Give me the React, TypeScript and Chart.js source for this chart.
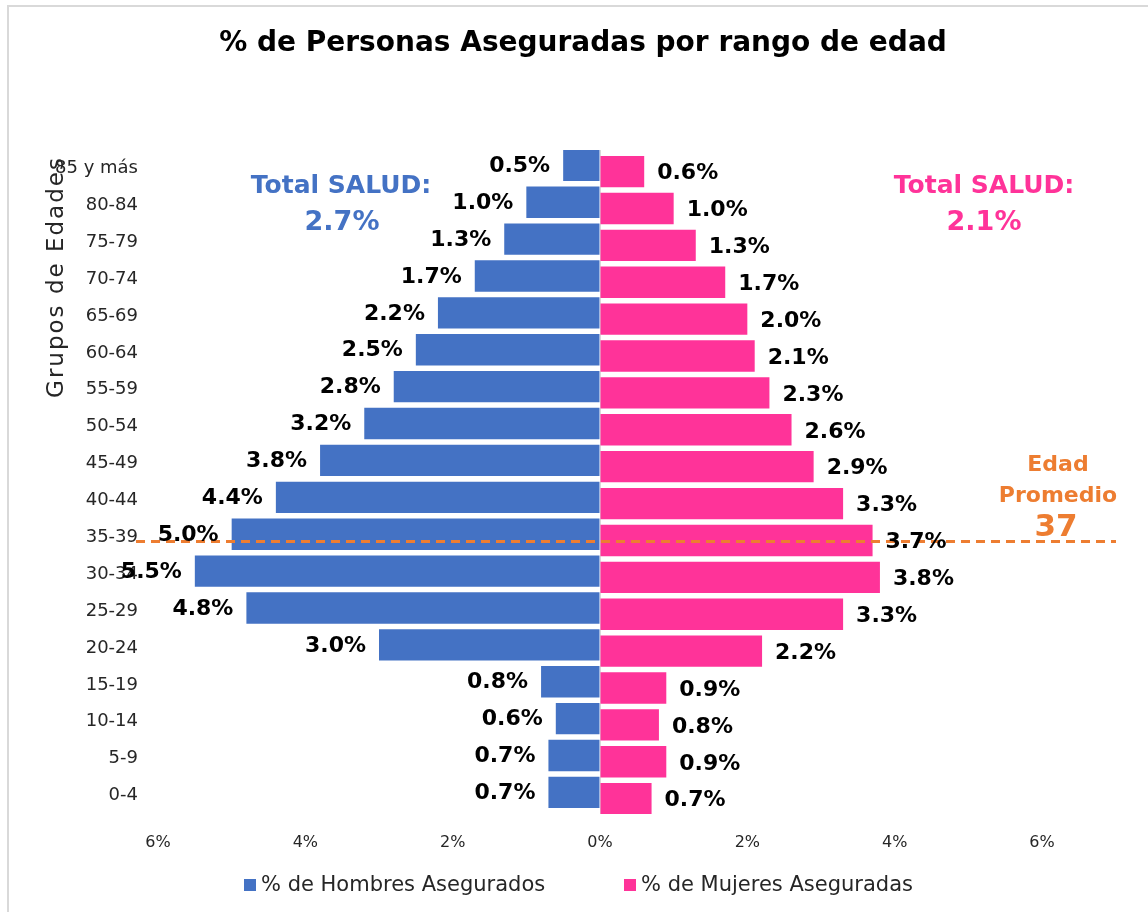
import React, { useEffect, useRef } from "react";
import { Chart, registerables } from "chart.js";
Chart.register(...registerables);

// ---- data (bottom to top) ----
const categories = ["0-4", "5-9", "10-14", "15-19", "20-24", "25-29", "30-34", "35-39", "40-44", "45-49", "50-54", "55-59", "60-64", "65-69", "70-74", "75-79", "80-84", "85 y más"];
const menValues = [0.7, 0.7, 0.6, 0.8, 3.0, 4.8, 5.5, 5.0, 4.4, 3.8, 3.2, 2.8, 2.5, 2.2, 1.7, 1.3, 1.0, 0.5];
const womenValues = [0.7, 0.9, 0.8, 0.9, 2.2, 3.3, 3.8, 3.7, 3.3, 2.9, 2.6, 2.3, 2.1, 2.0, 1.7, 1.3, 1.0, 0.6];
const xTicks = [-6, -4, -2, 0, 2, 4, 6];
const menLabel = "% de Hombres Asegurados";
const womenLabel = "% de Mujeres Aseguradas";
const titleText = "% de Personas Aseguradas por rango de edad";
const axisTitle = "Grupos de Edades";
const totalLabel = "Total SALUD:";
const menTotal = 2.7;
const womenTotal = 2.1;
const averageAge = 37;
const averageAgeGroup = "35-39";

const BLUE = "#4472C4";
const PINK = "#FF3399";
const ORANGE = "#ED7D31";
const FONT = "'DejaVu Sans'";

const overlayPlugin = {
  id: "overlay",
  beforeDraw(chart: any) {
    const ctx = chart.ctx;
    ctx.save();
    ctx.fillStyle = "#fff";
    ctx.fillRect(0, 0, chart.width, chart.height);
    ctx.strokeStyle = "#d9d9d9";
    ctx.lineWidth = 2;
    ctx.beginPath();
    ctx.moveTo(8, chart.height);
    ctx.lineTo(8, 6);
    ctx.lineTo(chart.width, 6);
    ctx.stroke();
    ctx.restore();
  },
  afterDatasetsDraw(chart: any) {
    const ctx = chart.ctx;
    const area = chart.chartArea;
    // average age dashed line
    const idx = categories.indexOf(averageAgeGroup);
    const wMeta = chart.getDatasetMeta(1);
    const lineY = wMeta.data[idx].y + 1;
    ctx.save();
    ctx.strokeStyle = ORANGE;
    ctx.lineWidth = 3;
    ctx.setLineDash([9, 6]);
    ctx.beginPath();
    ctx.moveTo(area.left - 22, lineY);
    ctx.lineTo(area.right + 74, lineY);
    ctx.stroke();
    ctx.restore();

    // data labels
    ctx.save();
    ctx.font = `bold 22px ${FONT}`;
    ctx.fillStyle = "#000";
    ctx.textBaseline = "middle";
    [0, 1].forEach((di) => {
      const meta = chart.getDatasetMeta(di);
      const vals = di === 0 ? menValues : womenValues;
      meta.data.forEach((el: any, i: number) => {
        const txt = vals[i].toFixed(1) + "%";
        if (di === 0) {
          ctx.textAlign = "right";
          ctx.fillText(txt, el.x - 13, el.y + 1);
        } else {
          ctx.textAlign = "left";
          ctx.fillText(txt, el.x + 13, el.y + 2);
        }
      });
    });
    ctx.restore();
  },
  afterDraw(chart: any) {
    const ctx = chart.ctx;
    ctx.save();
    ctx.textBaseline = "middle";
    ctx.textAlign = "center";
    // title
    ctx.fillStyle = "#000";
    ctx.font = `bold 28px ${FONT}`;
    ctx.fillText(titleText, 583, 44);

    // totals
    ctx.font = `bold 25px ${FONT}`;
    ctx.fillStyle = BLUE;
    ctx.fillText(totalLabel, 341, 186);
    ctx.font = `bold 27px ${FONT}`;
    ctx.fillText(menTotal.toFixed(1) + "%", 342, 223);
    ctx.font = `bold 25px ${FONT}`;
    ctx.fillStyle = PINK;
    ctx.fillText(totalLabel, 984, 186);
    ctx.font = `bold 27px ${FONT}`;
    ctx.fillText(womenTotal.toFixed(1) + "%", 984, 223);

    // average age
    ctx.fillStyle = ORANGE;
    ctx.font = `bold 22px ${FONT}`;
    ctx.fillText("Edad", 1058, 465);
    ctx.fillText("Promedio", 1058, 496);
    ctx.font = `bold 31px ${FONT}`;
    ctx.fillText(String(averageAge), 1056, 528);

    // y axis title
    ctx.save();
    ctx.translate(57, 277);
    ctx.rotate(-Math.PI / 2);
    ctx.fillStyle = "#262626";
    ctx.font = `23px ${FONT}`;
    try { (ctx as any).letterSpacing = "2px"; } catch (e) {}
    ctx.fillText(axisTitle, 0, 0);
    ctx.restore();

    // legend
    ctx.textAlign = "left";
    ctx.font = `21px ${FONT}`;
    ctx.fillStyle = BLUE;
    ctx.fillRect(244, 879, 12, 12);
    ctx.fillStyle = "#262626";
    ctx.fillText(menLabel, 261, 886);
    ctx.fillStyle = PINK;
    ctx.fillRect(624, 879, 12, 12);
    ctx.fillStyle = "#262626";
    ctx.fillText(womenLabel, 641, 886);
    ctx.restore();
  },
};

export default function App() {
  const ref = useRef<HTMLCanvasElement | null>(null);
  useEffect(() => {
    if (!ref.current) return;
    Chart.defaults.font.family = FONT;
    const chart = new Chart(ref.current, {
      type: "bar",
      data: {
        labels: categories,
        datasets: [
          {
            label: menLabel,
            data: menValues.map((v) => -v),
            backgroundColor: BLUE,
            categoryPercentage: 0.34,
            barPercentage: 5.0,
          },
          {
            label: womenLabel,
            data: womenValues,
            backgroundColor: PINK,
            categoryPercentage: 0.34,
            barPercentage: 5.0,
          },
        ],
      },
      options: {
        indexAxis: "y",
        animation: false,
        responsive: false,
        layout: { padding: { top: 150, right: 106, bottom: 58, left: 0 } },
        plugins: {
          legend: { display: false },
          title: { display: false },
          tooltip: { enabled: false },
        },
        scales: {
          x: {
            min: -6,
            max: 6,
            afterBuildTicks: (scale: any) => {
              scale.ticks = xTicks.map((v) => ({ value: v }));
            },
            afterFit: (scale: any) => {
              scale.height = 40;
            },
            ticks: {
              padding: 19,
              color: "#262626",
              font: { size: 16 },
              callback: (v: any) => Math.abs(Number(v)) + "%",
            },
            grid: {
              drawTicks: false,
              color: (c: any) => (c.tick && c.tick.value === 0 ? "#d9d9d9" : "rgba(0,0,0,0)"),
            },
            border: { display: false },
          },
          y: {
            reverse: true,
            afterFit: (scale: any) => {
              scale.width = 158;
            },
            ticks: {
              padding: 20,
              color: "#262626",
              font: { size: 18 },
              autoSkip: false,
            },
            grid: { display: false, drawTicks: false },
            border: { display: false },
          },
        },
      },
      plugins: [overlayPlugin],
    } as any);
    return () => chart.destroy();
  }, []);

  return (
    <div style={{ position: "fixed", left: 0, top: 0, width: 1148, height: 912, background: "#fff", overflow: "hidden" }}>
      <canvas ref={ref} width={1148} height={912} style={{ position: "absolute", left: 0, top: 0 }} />
    </div>
  );
}
